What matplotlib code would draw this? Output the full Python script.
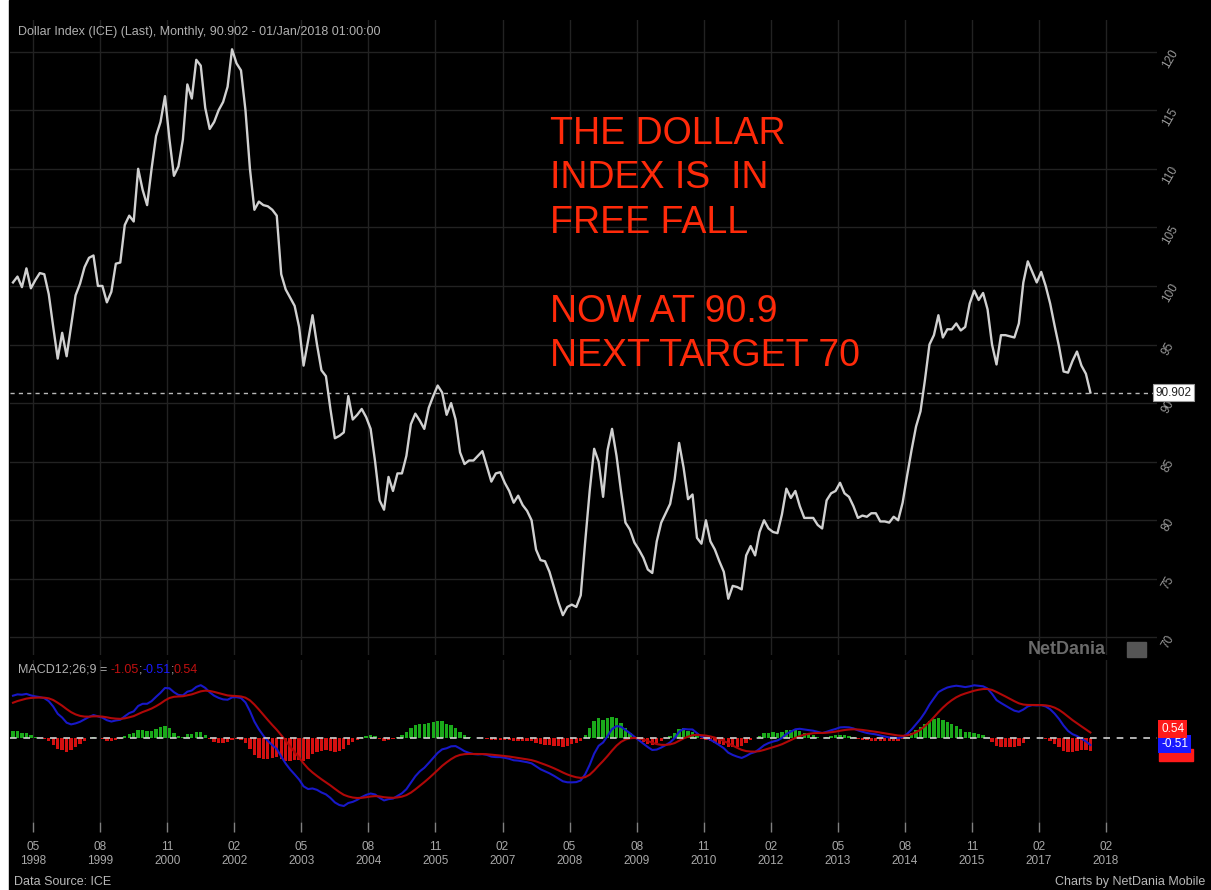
import matplotlib
matplotlib.use("Agg")
import matplotlib.pyplot as plt
import matplotlib.transforms as mtransforms
from matplotlib.patches import Rectangle
import numpy as np
import pandas as pd

plt.rcParams['font.family'] = ['Liberation Sans', 'DejaVu Sans']

# monthly closes of the dollar index (Jan 1998 -> Jan 2018)
dxy_close = [
    100.3, 100.8, 99.9, 101.5, 99.8, 100.5, 101.1, 101.0, 99.3, 96.5, 93.8, 96.0,
    94.0, 96.6, 99.2, 100.2, 101.6, 102.4, 102.6, 100.0, 100.0, 98.6, 99.5, 101.9,
    102.0, 105.2, 106.0, 105.5, 110.0, 108.2, 106.9, 110.0, 112.8, 114.0, 116.2, 112.5,
    109.4, 110.2, 112.5, 117.2, 116.0, 119.3, 118.8, 115.2, 113.4, 114.0, 115.0, 115.7,
    117.0, 120.2, 119.0, 118.4, 115.0, 110.0, 106.5, 107.2, 106.9, 106.8, 106.5, 106.0,
    101.0, 99.7, 99.0, 98.3, 96.5, 93.2, 95.3, 97.5, 95.0, 92.8, 92.3, 89.5,
    87.0, 87.2, 87.5, 90.6, 88.6, 89.0, 89.5, 88.8, 87.8, 85.0, 81.7, 80.9,
    83.7, 82.5, 84.0, 84.0, 85.5, 88.2, 89.1, 88.5, 87.8, 89.6, 90.6, 91.5,
    90.9, 89.0, 90.0, 88.6, 85.8, 84.8, 85.1, 85.1, 85.5, 85.9, 84.6, 83.3,
    84.0, 84.1, 83.2, 82.5, 81.5, 82.1, 81.3, 80.8, 80.0, 77.5, 76.6, 76.5,
    75.6, 74.3, 73.0, 71.9, 72.6, 72.8, 72.6, 73.6, 78.2, 82.5, 86.1, 85.0,
    82.0, 86.0, 87.8, 85.5, 82.5, 79.8, 79.2, 78.1, 77.5, 76.8, 75.8, 75.5,
    78.2, 79.8, 80.6, 81.4, 83.5, 86.6, 84.5, 81.8, 82.2, 78.5, 78.0, 80.0,
    78.2, 77.5, 76.5, 75.6, 73.3, 74.4, 74.3, 74.1, 77.0, 77.8, 77.0, 79.0,
    80.0, 79.3, 79.0, 78.9, 80.5, 82.7, 81.9, 82.5, 81.2, 80.2, 80.2, 80.2,
    79.6, 79.3, 81.7, 82.3, 82.5, 83.2, 82.3, 82.0, 81.2, 80.2, 80.4, 80.3,
    80.6, 80.6, 79.9, 79.9, 79.8, 80.3, 80.0, 81.5, 83.8, 86.0, 88.0, 89.3,
    92.0, 95.0, 95.8, 97.5, 95.6, 96.3, 96.3, 96.8, 96.2, 96.5, 98.5, 99.6,
    98.8, 99.4, 98.0, 95.0, 93.3, 95.8, 95.8, 95.7, 95.6, 96.8, 100.3, 102.1,
    101.2, 100.3, 101.2, 100.0, 98.5, 96.6, 94.8, 92.7, 92.6, 93.6, 94.4, 93.2,
    92.5, 90.902,
]

# earlier history (1996-97), only used to seed the MACD averages, not drawn
warmup_prior = [
    84.5, 85.0, 85.3, 86.2, 86.8, 86.9, 85.4, 86.0, 86.9, 87.4, 87.0, 87.3,
    90.8, 92.9, 93.7, 95.7, 93.3, 94.6, 99.3, 98.1, 96.1, 95.9, 98.2, 99.6,
]

tick_months = [4.5, 19.5, 34.5, 49.5, 64.5, 79.5, 94.5, 109.5, 124.5,
               139.5, 154.5, 169.5, 184.5, 199.5, 214.5, 229.5, 244.5]
tick_labels = ["05\n1998", "08\n1999", "11\n2000", "02\n2002", "05\n2003",
               "08\n2004", "11\n2005", "02\n2007", "05\n2008", "08\n2009",
               "11\n2010", "02\n2012", "05\n2013", "08\n2014", "11\n2015",
               "02\n2017", "02\n2018"]
price_ticks = [70, 75, 80, 85, 90, 95, 100, 105, 110, 115, 120]
macd_legend = ["-1.05", "-0.51", "0.54"]  # histogram ; macd ; signal

W, H = 1211, 890
fig = plt.figure(figsize=(W / 100, H / 100), dpi=100, facecolor='white')
fig.patches.append(Rectangle((9 / W, 0), 1, 1, transform=fig.transFigure,
                             color='black', zorder=-5))


def px_rect(x0, y0, x1, y1):
    return [x0 / W, 1 - y1 / H, (x1 - x0) / W, (y1 - y0) / H]


ax = fig.add_axes(px_rect(10, 20, 1157, 655))
ax2 = fig.add_axes(px_rect(10, 660, 1157, 822), sharex=ax)
for a in (ax, ax2):
    a.set_facecolor('black')
    for s in a.spines.values():
        s.set_visible(False)

x = np.arange(len(dxy_close))
grid_col = '#222222'

# price panel
ax.plot(x, dxy_close, color='#d0d0d0', lw=1.7, zorder=3)
ax.set_xlim(-0.67, 255.9)
ax.set_ylim(68.5, 122.7)
ax.set_yticks(price_ticks)
ax.yaxis.tick_right()
ax.tick_params(axis='y', length=0, pad=2, labelsize=8.5, labelcolor='#9a9a9a',
               labelrotation=60)
ax.set_xticks(tick_months)
ax.tick_params(axis='x', length=0, labelbottom=False)
ax.grid(True, color=grid_col, lw=1)

last = dxy_close[-1]
ax.axhline(last, color='#b8b8b8', lw=1, dashes=(3, 3), zorder=2)
trans = mtransforms.blended_transform_factory(ax.transAxes, ax.transData)
ax.text(0.999, last, f"{last:.3f}", transform=trans, ha='left', va='center',
        fontsize=8.5, color='#222222', zorder=10, clip_on=False,
        bbox=dict(boxstyle='square,pad=0.2', fc='white', ec='#999999', lw=0.8))

# MACD 12/26/9
s = pd.Series(warmup_prior + dxy_close)
macd = s.ewm(span=12, adjust=False).mean() - s.ewm(span=26, adjust=False).mean()
signal = macd.ewm(span=9, adjust=False).mean()
hist = macd - signal
n0 = len(warmup_prior)
macd = macd.values[n0:]
signal = signal.values[n0:]
hist = hist.values[n0:]

ax2.bar(x, hist, width=0.75, color=np.where(hist >= 0, '#1aaa1a', '#d41010'),
        zorder=2)
ax2.plot(x, macd, color='#1818c8', lw=1.5, zorder=3)
ax2.plot(x, signal, color='#b00808', lw=1.5, zorder=4)
ax2.axhline(0, color='#cfcfcf', lw=1.2, dashes=(4, 4), zorder=5)
lo = min(macd.min(), signal.min(), hist.min())
k = 68 / abs(lo)
ax2.set_ylim(-84 / k, 78 / k)
ax2.set_yticks([])
ax2.set_xticks(tick_months, tick_labels)
ax2.tick_params(axis='x', direction='out', length=7, width=1, color='#808080',
                labelcolor='#a8a8a8', labelsize=8.5, pad=7)
ax2.grid(True, axis='x', color=grid_col, lw=1)

# texts
fig.text(18 / W, 1 - 32 / H,
         "Dollar Index (ICE) (Last), Monthly, 90.902 - 01/Jan/2018 01:00:00",
         color='#b0b0b0', fontsize=9, va='center')

fig.text(550 / W, 1 - 116 / H,
         "THE DOLLAR\nINDEX IS  IN\nFREE FALL\n\nNOW AT 90.9\nNEXT TARGET 70",
         color='#ff2a0a', fontsize=27, va='top', ha='left', linespacing=1.3)

fig.text(1028 / W, 1 - 649 / H, "NetDania", color='#6a6a6a', fontsize=13,
         fontweight='bold', va='center')
fig.patches.append(Rectangle((1127 / W, 1 - 657 / H), 19 / W, 15 / H,
                             transform=fig.transFigure, color='#555555', zorder=3))

# MACD legend, pieces in a row
fig.canvas.draw()
renderer = fig.canvas.get_renderer()
pieces = [("MACD12;26;9 = ", '#b0b0b0'), (macd_legend[0], '#c01010'),
          (";", '#b0b0b0'), (macd_legend[1], '#1a1aff'), (";", '#b0b0b0'),
          (macd_legend[2], '#c01010')]
xp = 18
for txt, col in pieces:
    t = fig.text(xp / W, 1 - 670 / H, txt, color=col, fontsize=9, va='center')
    xp += t.get_window_extent(renderer).width

# last-value tags at the right of the MACD panel (histogram tag sits behind)
fig.patches.append(Rectangle((1159 / W, 1 - 761 / H), 34 / W, 12 / H,
                             transform=fig.transFigure, color='#ff1a1a', zorder=3))
for txt, col, yc in [(macd_legend[1], '#1a1aff', 744),
                     (macd_legend[2], '#ff1a1a', 729)]:
    fig.text(1161 / W, 1 - yc / H, txt, color='white', fontsize=8.5,
             va='center', ha='left', zorder=4,
             bbox=dict(boxstyle='square,pad=0.25', fc=col, ec='none'))

fig.text(14 / W, 1 - 882 / H, "Data Source: ICE", color='#b8b8b8',
         fontsize=9, va='center')
fig.text(1205 / W, 1 - 882 / H, "Charts by NetDania Mobile", color='#b8b8b8',
         fontsize=9, va='center', ha='right')

fig.savefig('out.png', dpi=100, facecolor=fig.get_facecolor())
